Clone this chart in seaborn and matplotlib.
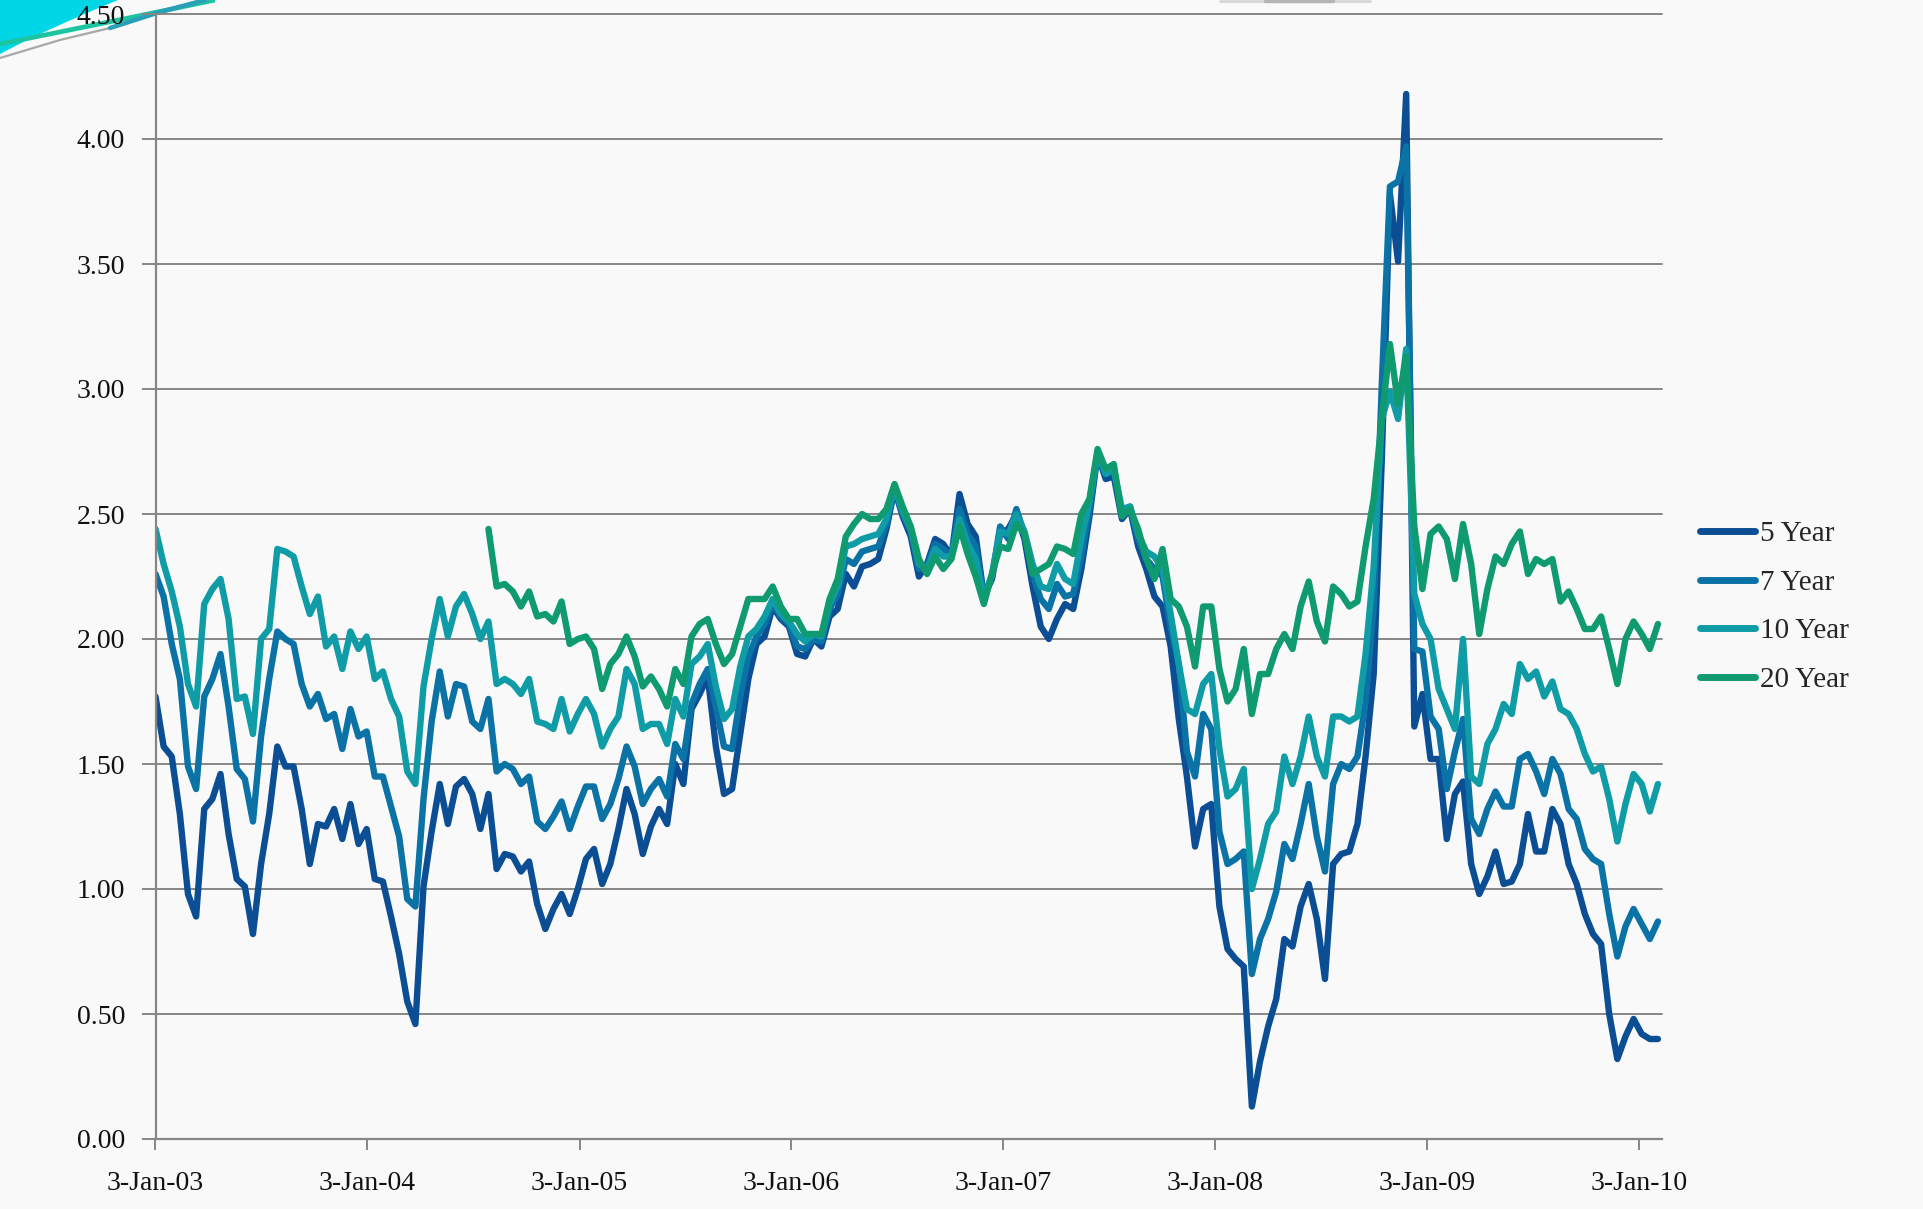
import numpy as np
import pandas as pd
import matplotlib
matplotlib.use("Agg")
import matplotlib.pyplot as plt
from matplotlib.lines import Line2D
from matplotlib.patches import Polygon
import seaborn as sns

# Real yields, fortnightly observations starting 3 Jan 2003
start_date = "2003-01-03"
step = "14D"

five_year = [
    1.77, 1.57, 1.53, 1.30, 0.98, 0.89, 1.32, 1.36, 1.46, 1.22, 1.04, 1.01, 0.82,
    1.10, 1.30, 1.57, 1.49, 1.49, 1.32, 1.10, 1.26, 1.25, 1.32, 1.20, 1.34, 1.18,
    1.24, 1.04, 1.03, 0.89, 0.74, 0.55, 0.46, 1.01, 1.23, 1.42, 1.26, 1.41, 1.44,
    1.38, 1.24, 1.38, 1.08, 1.14, 1.13, 1.07, 1.11, 0.94, 0.84, 0.92, 0.98, 0.90,
    1.00, 1.12, 1.16, 1.02, 1.10, 1.24, 1.40, 1.30, 1.14, 1.25, 1.32, 1.26, 1.50,
    1.42, 1.72, 1.78, 1.85, 1.57, 1.38, 1.40, 1.62, 1.84, 1.98, 2.01, 2.13, 2.08,
    2.05, 1.94, 1.93, 2.00, 1.97, 2.09, 2.12, 2.26, 2.21, 2.29, 2.30, 2.32, 2.44,
    2.60, 2.49, 2.41, 2.25, 2.30, 2.40, 2.38, 2.33, 2.58, 2.46, 2.41, 2.17, 2.24,
    2.42, 2.44, 2.50, 2.40, 2.21, 2.05, 2.00, 2.08, 2.14, 2.12, 2.28, 2.49, 2.74,
    2.64, 2.65, 2.48, 2.52, 2.37, 2.28, 2.17, 2.13, 1.97, 1.68, 1.45, 1.17, 1.32,
    1.34, 0.93, 0.76, 0.72, 0.69, 0.13, 0.31, 0.45, 0.56, 0.80, 0.77, 0.93, 1.02,
    0.88, 0.64, 1.10, 1.14, 1.15, 1.26, 1.53, 1.86, 2.72, 3.78, 3.51, 4.18, 1.65,
    1.78, 1.52, 1.52, 1.20, 1.38, 1.43, 1.10, 0.98, 1.05, 1.15, 1.02, 1.03, 1.10,
    1.30, 1.15, 1.15, 1.32, 1.26, 1.10, 1.02, 0.90, 0.82, 0.78, 0.50, 0.32, 0.41,
    0.48, 0.42, 0.40, 0.40,
]

seven_year = [
    2.26, 2.17, 1.98, 1.84, 1.49, 1.40, 1.77, 1.84, 1.94, 1.73, 1.48, 1.44, 1.27,
    1.61, 1.84, 2.03, 2.00, 1.98, 1.82, 1.73, 1.78, 1.68, 1.70, 1.56, 1.72, 1.61,
    1.63, 1.45, 1.45, 1.33, 1.21, 0.96, 0.93, 1.36, 1.67, 1.87, 1.69, 1.82, 1.81,
    1.67, 1.64, 1.76, 1.47, 1.50, 1.48, 1.42, 1.45, 1.27, 1.24, 1.29, 1.35, 1.24,
    1.33, 1.41, 1.41, 1.28, 1.34, 1.44, 1.57, 1.49, 1.34, 1.40, 1.44, 1.37, 1.58,
    1.52, 1.74, 1.82, 1.88, 1.73, 1.57, 1.56, 1.77, 1.93, 2.01, 2.06, 2.14, 2.09,
    2.06, 1.97, 1.96, 2.00, 1.99, 2.12, 2.18, 2.32, 2.30, 2.35, 2.36, 2.37, 2.46,
    2.60, 2.50, 2.43, 2.28, 2.29, 2.38, 2.36, 2.33, 2.52, 2.42, 2.37, 2.17, 2.25,
    2.45, 2.40, 2.52, 2.42, 2.26, 2.16, 2.12, 2.22, 2.17, 2.18, 2.33, 2.52, 2.74,
    2.66, 2.67, 2.50, 2.53, 2.40, 2.32, 2.28, 2.25, 2.05, 1.90, 1.55, 1.45, 1.70,
    1.64, 1.23, 1.10, 1.12, 1.15, 0.66, 0.80, 0.88, 0.99, 1.18, 1.12, 1.26, 1.42,
    1.21, 1.07, 1.42, 1.50, 1.48, 1.53, 1.75, 2.13, 3.02, 3.81, 3.83, 3.97, 1.96,
    1.95, 1.69, 1.64, 1.40, 1.55, 1.68, 1.28, 1.22, 1.32, 1.39, 1.33, 1.33, 1.52,
    1.54, 1.47, 1.38, 1.52, 1.46, 1.32, 1.28, 1.16, 1.12, 1.10, 0.90, 0.73, 0.85,
    0.92, 0.86, 0.80, 0.87,
]

ten_year = [
    2.44, 2.30, 2.19, 2.05, 1.82, 1.73, 2.14, 2.20, 2.24, 2.08, 1.76, 1.77, 1.62,
    2.00, 2.04, 2.36, 2.35, 2.33, 2.21, 2.10, 2.17, 1.97, 2.01, 1.88, 2.03, 1.96,
    2.01, 1.84, 1.87, 1.76, 1.69, 1.47, 1.42, 1.81, 2.00, 2.16, 2.01, 2.13, 2.18,
    2.10, 2.00, 2.07, 1.82, 1.84, 1.82, 1.78, 1.84, 1.67, 1.66, 1.64, 1.76, 1.63,
    1.70, 1.76, 1.70, 1.57, 1.64, 1.69, 1.88, 1.82, 1.64, 1.66, 1.66, 1.58, 1.76,
    1.69, 1.90, 1.93, 1.98, 1.81, 1.68, 1.72, 1.89, 2.01, 2.04, 2.09, 2.16, 2.10,
    2.07, 2.02, 1.99, 2.02, 2.01, 2.14, 2.21, 2.37, 2.38, 2.40, 2.41, 2.42, 2.48,
    2.61, 2.51, 2.44, 2.30, 2.28, 2.36, 2.33, 2.33, 2.48, 2.38, 2.32, 2.16, 2.26,
    2.43, 2.42, 2.50, 2.43, 2.30, 2.21, 2.20, 2.30, 2.24, 2.22, 2.40, 2.55, 2.74,
    2.66, 2.68, 2.52, 2.53, 2.42, 2.35, 2.33, 2.28, 2.10, 1.90, 1.72, 1.70, 1.82,
    1.86, 1.56, 1.37, 1.40, 1.48, 1.00, 1.12, 1.26, 1.31, 1.53, 1.42, 1.53, 1.69,
    1.53, 1.45, 1.69, 1.69, 1.67, 1.69, 1.94, 2.29, 2.88, 2.99, 2.88, 3.16, 2.18,
    2.06, 2.00, 1.80, 1.72, 1.64, 2.00, 1.45, 1.42, 1.58, 1.64, 1.74, 1.70, 1.90,
    1.84, 1.87, 1.77, 1.83, 1.72, 1.70, 1.64, 1.54, 1.47, 1.49, 1.36, 1.19, 1.34,
    1.46, 1.42, 1.31, 1.42,
]

# The 20-year series begins at the end of July 2004
twenty_year = [
    2.44, 2.21, 2.22, 2.19, 2.13, 2.19, 2.09, 2.10, 2.07, 2.15, 1.98,
    2.00, 2.01, 1.96, 1.80, 1.90, 1.94, 2.01, 1.93, 1.81, 1.85, 1.80, 1.73, 1.88,
    1.82, 2.01, 2.06, 2.08, 1.98, 1.90, 1.94, 2.05, 2.16, 2.16, 2.16, 2.21, 2.13,
    2.08, 2.08, 2.02, 2.02, 2.02, 2.16, 2.24, 2.41, 2.46, 2.50, 2.48, 2.48, 2.52,
    2.62, 2.53, 2.45, 2.32, 2.26, 2.33, 2.28, 2.32, 2.45, 2.34, 2.25, 2.14, 2.26,
    2.37, 2.36, 2.46, 2.42, 2.26, 2.28, 2.30, 2.37, 2.36, 2.34, 2.50, 2.56, 2.76,
    2.68, 2.70, 2.49, 2.52, 2.44, 2.32, 2.24, 2.36, 2.16, 2.13, 2.05, 1.89, 2.13,
    2.13, 1.88, 1.75, 1.80, 1.96, 1.70, 1.86, 1.86, 1.96, 2.02, 1.96, 2.13, 2.23,
    2.07, 1.99, 2.21, 2.18, 2.13, 2.15, 2.37, 2.56, 2.88, 3.18, 2.94, 3.13, 2.45,
    2.20, 2.42, 2.45, 2.40, 2.24, 2.46, 2.30, 2.02, 2.20, 2.33, 2.30, 2.38, 2.43,
    2.26, 2.32, 2.30, 2.32, 2.15, 2.19, 2.12, 2.04, 2.04, 2.09, 1.96, 1.82, 2.00,
    2.07, 2.02, 1.96, 2.06,
]

series_names = ["5 Year", "7 Year", "10 Year", "20 Year"]
series_colors = ["#0c4e93", "#0b72a6", "#109ca6", "#0f9a70"]

x_tick_labels = ["3-Jan-03", "3-Jan-04", "3-Jan-05", "3-Jan-06",
                 "3-Jan-07", "3-Jan-08", "3-Jan-09", "3-Jan-10"]
y_tick_values = [0.0, 0.5, 1.0, 1.5, 2.0, 2.5, 3.0, 3.5, 4.0, 4.5]

# ---- assemble long-form table ----
n = len(five_year)
dates = pd.date_range(start_date, periods=n, freq=step)
twenty_full = [np.nan] * (n - len(twenty_year)) + twenty_year
frames = []
for name, vals in zip(series_names, [five_year, seven_year, ten_year, twenty_full]):
    frames.append(pd.DataFrame({"Date": dates, "Yield": vals, "Series": name}))
df = pd.concat(frames, ignore_index=True).dropna()

# ---- styling ----
sns.set_style("white")
plt.rcParams["font.family"] = ["Liberation Serif", "DejaVu Serif"]
bg = "#f9f9f9"
grid_col = "#868686"

W, H = 1923, 1209
fig = plt.figure(figsize=(W / 100, H / 100), dpi=100, facecolor=bg)

# decorative corner swoosh, drawn in pixel space behind the plot
deco = fig.add_axes([0, 0, 1, 1], zorder=0)
deco.set_xlim(0, W)
deco.set_ylim(H, 0)
deco.axis("off")
tt = np.linspace(0, 1, 30)
cx = (1 - tt) ** 2 * 118 + 2 * (1 - tt) * tt * 45 + tt ** 2 * 0
cy = (1 - tt) ** 2 * 0 + 2 * (1 - tt) * tt * 30 + tt ** 2 * 54
deco.add_patch(Polygon(np.column_stack([np.r_[0, cx], np.r_[0, cy]]),
                       closed=True, facecolor="#00d6e6", edgecolor="none"))
gx = (1 - tt) ** 2 * 0 + 2 * (1 - tt) * tt * 110 + tt ** 2 * 215
gy = (1 - tt) ** 2 * 44 + 2 * (1 - tt) * tt * 22 + tt ** 2 * 0
deco.plot(gx, gy, color="#1cc4a2", lw=3.4, solid_capstyle="butt")
deco.plot([0, 60, 110], [58, 40, 28], color="#a8a8a8", lw=1.6)
deco.plot([110, 160, 205], [28, 12, 0], color="#2a9fb8", lw=3.2)
deco.plot([1220, 1370], [1, 1], color="#d6d6d6", lw=2)
deco.plot([1265, 1333], [1, 1], color="#b4b4b4", lw=2.5)

left, right = 155.5 / W, 1662 / W
bottom, top = (H - 1139) / H, (H - 14) / H
ax = fig.add_axes([left, bottom, right - left, top - bottom], zorder=1)
ax.patch.set_alpha(0)

sns.lineplot(data=df, x="Date", y="Yield", hue="Series", hue_order=series_names,
             palette=dict(zip(series_names, series_colors)), linewidth=4.6,
             estimator=None, sort=False, legend=False, ax=ax)
for ln in ax.get_lines():
    ln.set_solid_joinstyle("round")
    ln.set_solid_capstyle("round")

ax.set_ylim(0, 4.5)
ax.set_xlim(pd.Timestamp("2003-01-03"), pd.Timestamp("2010-02-12"))
tick_dates = pd.to_datetime(x_tick_labels, format="%d-%b-%y")
ax.set_xticks(tick_dates)
ax.set_xticklabels(x_tick_labels)
ax.set_yticks(y_tick_values)
ax.set_yticklabels([f"{v:.2f}" for v in y_tick_values])
ax.set_xlabel("")
ax.set_ylabel("")

ax.yaxis.grid(True, color=grid_col, linewidth=1.4)
ax.xaxis.grid(False)
ax.set_axisbelow(True)
for gl in ax.get_ygridlines():
    gl.set_clip_on(False)

for side in ["top", "right"]:
    ax.spines[side].set_visible(False)
for side in ["left", "bottom"]:
    ax.spines[side].set_color(grid_col)
    ax.spines[side].set_linewidth(1.6)

ax.tick_params(axis="y", length=10, width=1.4, color=grid_col, pad=12,
               labelsize=20, labelcolor="#111111", left=True)
ax.tick_params(axis="x", length=8, width=1.4, color=grid_col, pad=15,
               labelsize=20, labelcolor="#111111", bottom=True)

handles = [Line2D([0], [0], color=c, lw=5, solid_capstyle="round") for c in series_colors]
fig.legend(handles, series_names, loc="center left",
           bbox_to_anchor=(1700 / W, 0.498), bbox_transform=fig.transFigure,
           frameon=False, fontsize=21, handlelength=1.9, handletextpad=0.15,
           labelspacing=0.76, borderpad=0, borderaxespad=0)

fig.savefig("out.png", dpi=100, facecolor=bg)
